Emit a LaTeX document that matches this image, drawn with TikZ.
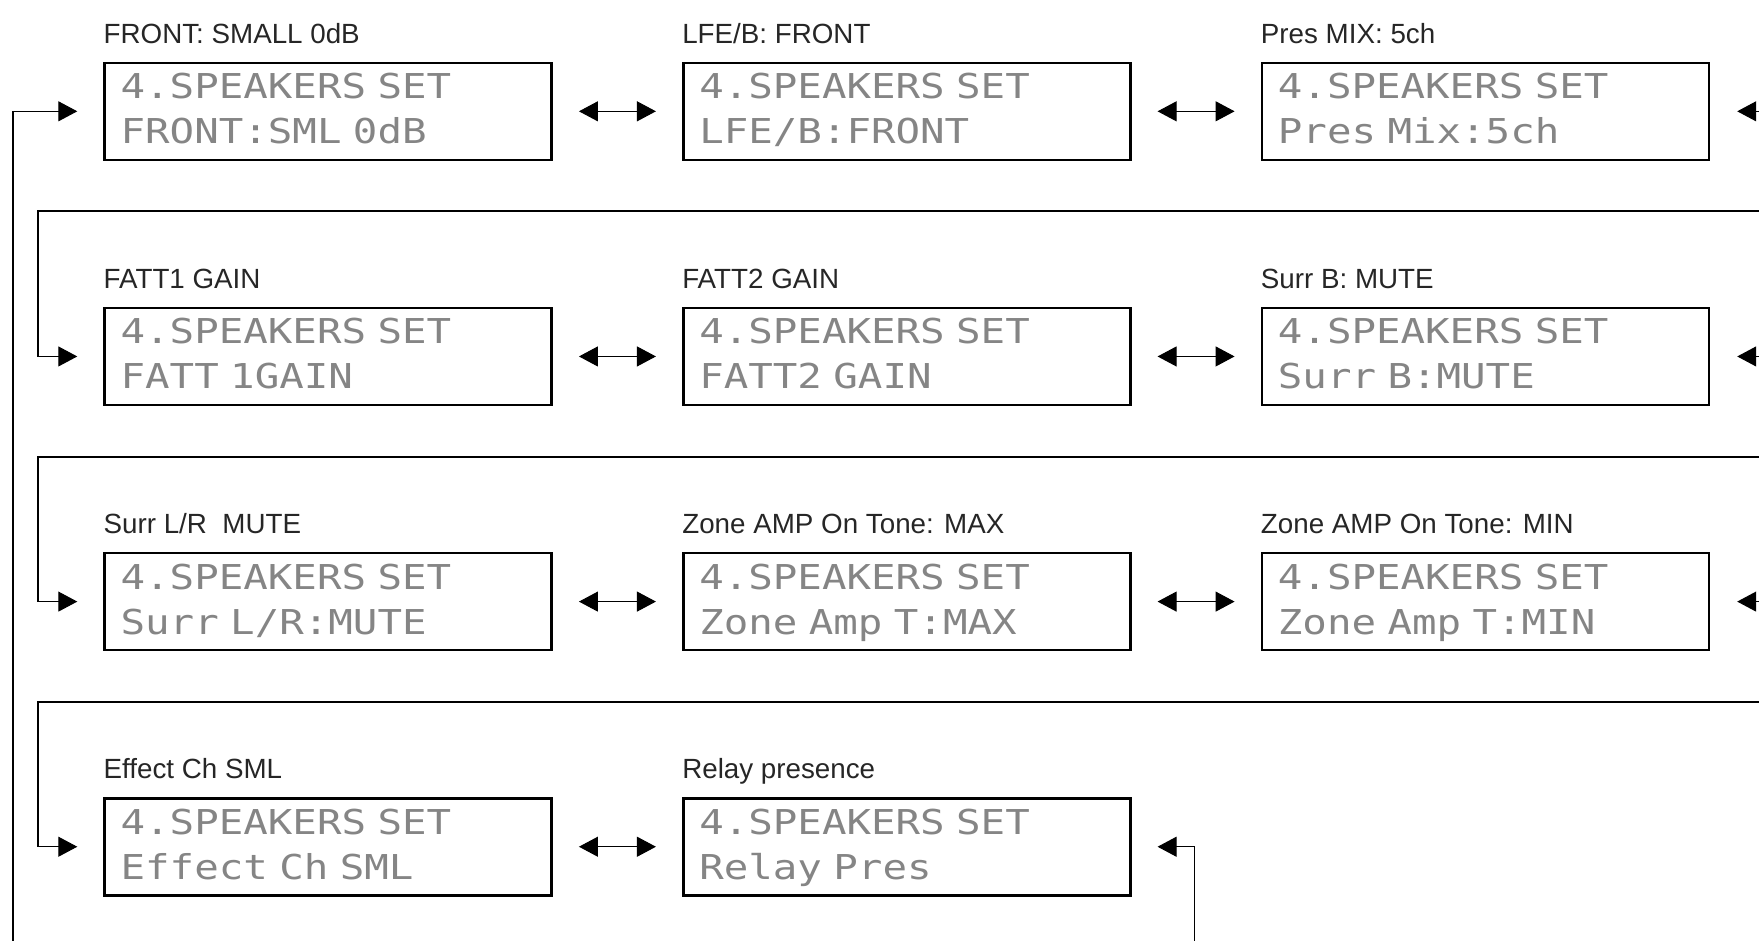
\documentclass[tikz,border=0pt]{standalone}
\usepackage{fontspec}
\setmainfont{Liberation Sans}
\newfontfamily\lcdfont[FakeStretch=1.19]{DejaVu Sans Mono}
\usetikzlibrary{positioning,arrows.meta}

\begin{document}
\begin{tikzpicture}[>={Triangle[length=.38cm,width=.4cm]},
  lcd/.style={draw,line width=1.5pt,minimum height=1.94cm,text width=8.3cm,inner xsep=.32cm,inner ysep=0pt,align=left,text height=.5cm,text depth=1cm,text=black!48,font=\lcdfont\fontsize{19.5}{25.6}\selectfont},
  lbl/.style={inner sep=0pt,text=black!85,font=\fontsize{15.8}{18}\selectfont},
  link/.style={line width=.6pt},
  pair/.style={link,<->,shorten <=.52cm,shorten >=.52cm}]
\useasboundingbox (0,0) rectangle (35.18,-18.82);
\node[lcd,anchor=north west] (front) at (2.066,-1.23) {4.SPEAKERS SET\\FRONT:SML 0dB};
\node[lcd,right=2.58cm of front] (lfe) {4.SPEAKERS SET\\LFE/B:FRONT};
\node[lcd,right=2.58cm of lfe] (pres) {4.SPEAKERS SET\\Pres Mix:5ch};
\node[lcd,below=2.91cm of front] (fatt1) {4.SPEAKERS SET\\FATT 1GAIN};
\node[lcd,right=2.58cm of fatt1] (fatt2) {4.SPEAKERS SET\\FATT2 GAIN};
\node[lcd,right=2.58cm of fatt2] (surrb) {4.SPEAKERS SET\\Surr B:MUTE};
\node[lcd,below=2.91cm of fatt1] (surrlr) {4.SPEAKERS SET\\Surr L/R:MUTE};
\node[lcd,right=2.58cm of surrlr] (zmax) {4.SPEAKERS SET\\Zone Amp T:MAX};
\node[lcd,right=2.58cm of zmax] (zmin) {4.SPEAKERS SET\\Zone Amp T:MIN};
\node[lcd,below=2.91cm of surrlr] (effect) {4.SPEAKERS SET\\Effect Ch SML};
\node[lcd,right=2.58cm of effect] (relay) {4.SPEAKERS SET\\Relay Pres};
% titles over the displays
\node[lbl,above=.37cm of front.north west,anchor=base west] (front-t) {FRONT: SMALL 0dB};
\node[lbl,above=.37cm of lfe.north west,anchor=base west] (lfe-t) {LFE/B: FRONT};
\node[lbl,above=.37cm of pres.north west,anchor=base west] (pres-t) {Pres MIX: 5ch};
\node[lbl,above=.37cm of fatt1.north west,anchor=base west] (fatt1-t) {FATT1 GAIN};
\node[lbl,above=.37cm of fatt2.north west,anchor=base west] (fatt2-t) {FATT2 GAIN};
\node[lbl,above=.37cm of surrb.north west,anchor=base west] (surrb-t) {Surr B: MUTE};
\node[lbl,above=.37cm of surrlr.north west,anchor=base west] (surrlr-t) {Surr L/R\ \ MUTE};
\node[lbl,above=.37cm of zmax.north west,anchor=base west] (zmax-t) {Zone AMP On Tone: MAX};
\node[lbl,above=.37cm of zmin.north west,anchor=base west] (zmin-t) {Zone AMP On Tone: MIN};
\node[lbl,above=.37cm of effect.north west,anchor=base west] (effect-t) {Effect Ch SML};
\node[lbl,above=.37cm of relay.north west,anchor=base west] (relay-t) {Relay presence};
% left and right steps
\draw[pair] (front)--(lfe);\draw[pair] (lfe)--(pres);
\draw[pair] (fatt1)--(fatt2);\draw[pair] (fatt2)--(surrb);
\draw[pair] (surrlr)--(zmax);\draw[pair] (zmax)--(zmin);
\draw[pair] (effect)--(relay);
% wrap from the right end of a row to the next row
\coordinate (wrap1) at (35.18,-4.22);
\coordinate (wrap2) at (35.18,-9.14);
\coordinate (wrap3) at (35.18,-14.04);
\coordinate (turn1) at (.76,0 |- fatt1);
\coordinate (turn2) at (.76,0 |- surrlr);
\coordinate (turn3) at (.76,0 |- effect);
\draw[link,->,shorten >=.52cm] (wrap1) -| (turn1) -- (fatt1);
\draw[link,->,shorten >=.52cm] (wrap2) -| (turn2) -- (surrlr);
\draw[link,->,shorten >=.52cm] (wrap3) -| (turn3) -- (effect);
\coordinate (pres-in) at (35.18,0 |- pres);
\coordinate (surrb-in) at (35.18,0 |- surrb);
\coordinate (zmin-in) at (35.18,0 |- zmin);
\draw[link,->,shorten >=.54cm] (pres-in) -- (pres);
\draw[link,->,shorten >=.54cm] (surrb-in) -- (surrb);
\draw[link,->,shorten >=.54cm] (zmin-in) -- (zmin);
% loop back from the last display
\coordinate (loopl) at (.26,-18.82);
\coordinate (loopr) at (23.89,-18.82);
\draw[link,->,shorten >=.52cm] (loopl) |- (front);
\draw[link,->,shorten >=.52cm] (loopr) |- (relay);
\end{tikzpicture}
\end{document}
